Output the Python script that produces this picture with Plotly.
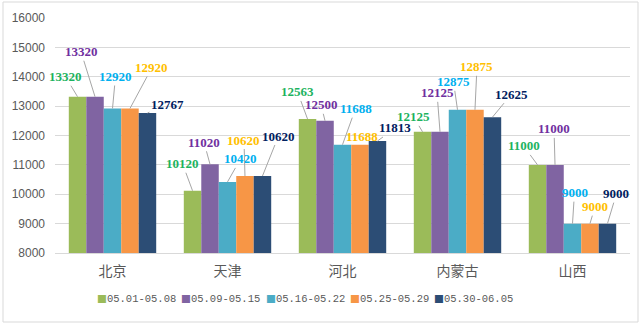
import plotly.graph_objects as go

categories = ["北京", "天津", "河北", "内蒙古", "山西"]
series_names = ["05.01-05.08", "05.09-05.15", "05.16-05.22", "05.25-05.29", "05.30-06.05"]
s1 = [13320, 10120, 12563, 12125, 11000]
s2 = [13320, 11020, 12500, 12125, 11000]
s3 = [12920, 10420, 11688, 12875, 9000]
s4 = [12920, 10620, 11688, 12875, 9000]
s5 = [12767, 10620, 11813, 12625, 9000]
series_values = [s1, s2, s3, s4, s5]
y_ticks = [8000, 9000, 10000, 11000, 12000, 13000, 14000, 15000, 16000]

bar_colors = ["#9BBB59", "#8064A2", "#4BACC6", "#F79646", "#2C4D75"]
label_colors = ["#1DB360", "#7030A0", "#00B0F0", "#FFC000", "#002060"]

# label offsets (pixels) of each data label from its bar top: [series][category]
label_offsets = [
    [(-12, -20), (-10, -27), (-10, -27), (-9, -15), (-14, -19)],
    [(-14, -45), (-6, -22), (-4, -16), (-3, -39), (-1, -36)],
    [(3, -32), (13, -23), (13, -36), (-4, -28), (2, -31)],
    [(22, -41), (-1, -36), (2, -8), (2, -43), (5, -17)],
    [(20, -8), (16, -40), (18, -13), (19, -23), (9, -30)],
]

W, H = 641, 327
ML, MR, MT, MB = 55, 11, 18, 74
PW, PH = W - ML - MR, H - MT - MB
BARGAP = 0.24
NS = len(series_values)
bw = (1 - BARGAP) / NS

fig = go.Figure()
for j, (name, vals) in enumerate(zip(series_names, series_values)):
    fig.add_trace(go.Bar(x=categories, y=vals, name=name,
                         marker=dict(color=bar_colors[j], line=dict(width=0)),
                         showlegend=False))

annotations = []
for j, vals in enumerate(series_values):
    for i, v in enumerate(vals):
        dx, dy = label_offsets[j][i]
        annotations.append(dict(
            x=i + (j - (NS - 1) / 2) * bw, y=v, xref="x", yref="y",
            text=f"<b>{v}</b>", showarrow=True, arrowhead=0, arrowwidth=1,
            arrowcolor="#A6A6A6", ax=dx, ay=dy, standoff=0,
            font=dict(family="Liberation Serif", size=13, color=label_colors[j]),
        ))

# legend drawn as text
leg_start, leg_step, leg_y = 95, 84.3, 298
for j, name in enumerate(series_names):
    px = leg_start + j * leg_step
    annotations.append(dict(
        x=(px - ML) / PW, y=(MT + PH - leg_y) / PH, xref="paper", yref="paper",
        xanchor="left", yanchor="middle", showarrow=False,
        text=f"<span style='color:{bar_colors[j]};font-family:DejaVu Sans'>■</span>{name}",
        font=dict(family="Liberation Mono", size=10.5, color="#595959"),
    ))

shapes = [dict(type="rect", xref="paper", yref="paper",
               x0=(3 - ML) / PW, x1=(638 - ML) / PW,
               y0=(MT + PH - 322) / PH, y1=(MT + PH - 2) / PH,
               line=dict(color="#D9D9D9", width=1), fillcolor="rgba(0,0,0,0)", layer="below")]

fig.update_layout(
    width=W, height=H,
    margin=dict(l=ML, r=MR, t=MT, b=MB),
    paper_bgcolor="white", plot_bgcolor="white",
    barmode="group", bargap=BARGAP, bargroupgap=0,
    annotations=annotations, shapes=shapes,
    showlegend=False,
    xaxis=dict(range=[-0.5, len(categories) - 0.5], autorange=False,
               showgrid=False, showline=True, linecolor="#D9D9D9", linewidth=1,
               ticks="", tickfont=dict(family="Noto Sans CJK SC", size=14, color="#595959"),
               ticklabelstandoff=5),
    yaxis=dict(range=[8000, 16000], autorange=False, tickvals=y_ticks,
               ticktext=[str(t) for t in y_ticks], showgrid=True,
               gridcolor="#D9D9D9", gridwidth=1, zeroline=False, showline=False,
               tickfont=dict(family="Liberation Sans", size=12, color="#595959"),
               ticklabelstandoff=9),
)

fig.write_html("out.html")
